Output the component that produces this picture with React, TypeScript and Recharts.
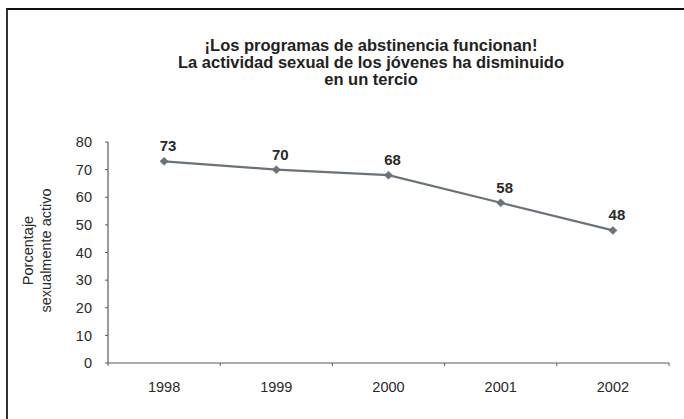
import React from 'react';
import { LineChart, Line, XAxis, YAxis, LabelList } from 'recharts';

const years = ['1998', '1999', '2000', '2001', '2002'];
const percentages = [73, 70, 68, 58, 48];
const yTicks = [0, 10, 20, 30, 40, 50, 60, 70, 80];
const titleLines = [
  '¡Los programas de abstinencia funcionan!',
  'La actividad sexual de los jóvenes ha disminuido',
  'en un tercio',
];
const yLabelLines = ['Porcentaje', 'sexualmente activo'];

const data = years.map((y, i) => ({ year: y, value: percentages[i] }));

const FONT = '"Liberation Sans", Arial, Helvetica, sans-serif';
const LINE_COLOR = '#6b737a';
const AXIS_COLOR = '#5a5a5a';
const TEXT_COLOR = '#2a2a2a';

const XTick = (props: any) => {
  const { x, y, payload, index, visibleTicksCount, width } = props;
  const n = visibleTicksCount || years.length;
  const half = width / n / 2;
  const isLast = index === n - 1;
  return (
    <g>
      <line x1={x - half} x2={x - half} y1={y} y2={y + 3} stroke={AXIS_COLOR} strokeWidth={1} />
      {isLast && <line x1={x + half} x2={x + half} y1={y} y2={y + 3} stroke={AXIS_COLOR} strokeWidth={1} />}
      <text x={x} y={y + 29} textAnchor="middle" fontFamily={FONT} fontSize={14.5} fill={TEXT_COLOR}>
        {payload.value}
      </text>
    </g>
  );
};

const Diamond = (props: any) => {
  const { cx, cy } = props;
  if (cx == null || cy == null) return null;
  return (
    <path
      d={`M${cx},${cy - 4} L${cx + 4.2},${cy} L${cx},${cy + 4} L${cx - 4.2},${cy} Z`}
      fill={LINE_COLOR}
      stroke={LINE_COLOR}
      strokeWidth={0.5}
    />
  );
};

const YLabel = (props: any) => {
  const { viewBox } = props;
  const cy = viewBox.y + viewBox.height / 2 - 2;
  const xs = [viewBox.x + 19.5, viewBox.x + 38];
  return (
    <g>
      {yLabelLines.map((t, i) => (
        <text
          key={t}
          x={xs[i]}
          y={cy}
          textAnchor="middle"
          dominantBaseline="central"
          transform={`rotate(-90, ${xs[i]}, ${cy})`}
          fontFamily={FONT}
          fontSize={14.5}
          fill={TEXT_COLOR}
        >
          {t}
        </text>
      ))}
    </g>
  );
};

export default function App() {
  return (
    <div style={{ position: 'absolute', left: 0, top: 0, width: 684, height: 419, background: '#fff', overflow: 'hidden' }}>
      <div
        style={{
          position: 'absolute',
          left: 6,
          top: 8,
          width: 700,
          height: 430,
          borderTop: '2px solid #111',
          borderLeft: '2px solid #333',
          boxSizing: 'border-box',
        }}
      />
      <div
        style={{
          position: 'absolute',
          left: 171,
          width: 400,
          top: 37,
          textAlign: 'center',
          fontFamily: FONT,
          fontWeight: 'bold',
          fontSize: 16.5,
          lineHeight: '17px',
          color: '#222',
        }}
      >
        {titleLines.map((t) => (
          <div key={t}>{t}</div>
        ))}
      </div>
      <div style={{ position: 'absolute', left: 0, top: 0 }}>
        <LineChart width={684} height={419} data={data} margin={{ top: 142, right: 15, left: 8, bottom: 16 }}>
          <XAxis
            dataKey="year"
            scale="band"
            height={40}
            tickLine={false}
            tickSize={0}
            tickMargin={0}
            axisLine={{ stroke: AXIS_COLOR, strokeWidth: 1.2 }}
            tick={<XTick />}
            interval={0}
          />
          <YAxis
            width={100}
            domain={[0, 80]}
            ticks={yTicks}
            interval={0}
            tickSize={3}
            tickMargin={13}
            axisLine={{ stroke: AXIS_COLOR, strokeWidth: 1.2 }}
            tickLine={{ stroke: AXIS_COLOR }}
            tick={{ fontFamily: FONT, fontSize: 14.5, fill: TEXT_COLOR }}
            label={<YLabel />}
          />
          <Line
            type="linear"
            dataKey="value"
            stroke={LINE_COLOR}
            strokeWidth={2.2}
            dot={<Diamond />}
            activeDot={false}
            isAnimationActive={false}
          >
            <LabelList
              dataKey="value"
              position="top"
              offset={10}
              dx={4}
              style={{ fontFamily: FONT, fontSize: 15, fontWeight: 'bold', fill: '#2a2a2a' }}
            />
          </Line>
        </LineChart>
      </div>
    </div>
  );
}
